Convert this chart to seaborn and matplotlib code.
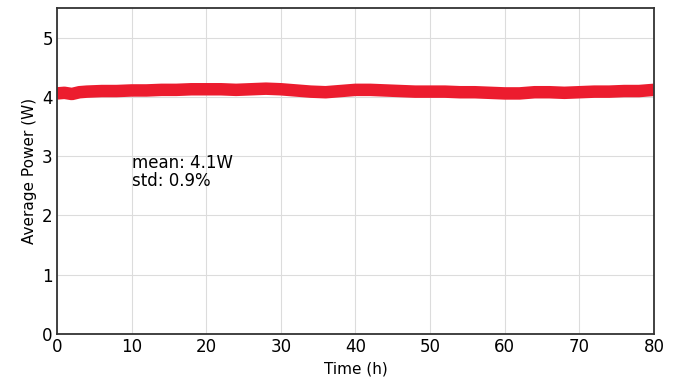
import matplotlib
matplotlib.use('Agg')
import matplotlib.pyplot as plt
import numpy as np
import pandas as pd
import seaborn as sns

# center of the power band (hours, watts)
time_h = [0, 1, 2, 3, 4, 6, 8, 10, 12, 14, 16, 18, 20, 22, 24, 26, 28, 30, 32,
          34, 36, 38, 40, 42, 44, 46, 48, 50, 52, 54, 56, 58, 60, 62, 64, 66,
          68, 70, 72, 74, 76, 78, 80]
power_w = [4.06, 4.07, 4.05, 4.08, 4.09, 4.10, 4.10, 4.11, 4.11, 4.12, 4.12,
           4.13, 4.13, 4.13, 4.12, 4.13, 4.14, 4.13, 4.11, 4.09, 4.08, 4.10,
           4.12, 4.12, 4.11, 4.10, 4.09, 4.09, 4.09, 4.08, 4.08, 4.07, 4.06,
           4.06, 4.08, 4.08, 4.07, 4.08, 4.09, 4.09, 4.10, 4.10, 4.12]

df = pd.DataFrame({'Time (h)': time_h, 'Average Power (W)': power_w})

sns.set_style('whitegrid', {'grid.color': '#dcdcdc', 'axes.edgecolor': '#333333',
                            'text.color': 'black', 'xtick.color': 'black',
                            'ytick.color': 'black', 'axes.labelcolor': 'black'})
plt.rcParams['font.family'] = ['DejaVu Sans']

fig = plt.figure(figsize=(6.84, 3.85), dpi=100)
ax = fig.add_axes([0.0833, 0.1325, 0.8728, 0.8465])

sns.lineplot(data=df, x='Time (h)', y='Average Power (W)', ax=ax,
             color='#ec1c2e', linewidth=9, solid_capstyle='butt')

ax.set_xlim(0, 80)
ax.set_ylim(0, 5.5)
ax.set_xticks(range(0, 81, 10))
ax.set_yticks(range(0, 6))
ax.tick_params(direction='in', length=5, width=1.2, color='#333333',
               labelcolor='black', labelsize=12, pad=3, top=False, right=False)
ax.set_xlabel('Time (h)', fontsize=11, color='black')
ax.set_ylabel('Average Power (W)', fontsize=11, color='black')
for s in ax.spines.values():
    s.set_linewidth(1.3)
    s.set_color('#333333')

ax.text(10, 2.73, 'mean: 4.1W\nstd: 0.9%', fontsize=12, va='center', ha='left',
        linespacing=1.0, color='black')

fig.savefig('out.png', dpi=100)
